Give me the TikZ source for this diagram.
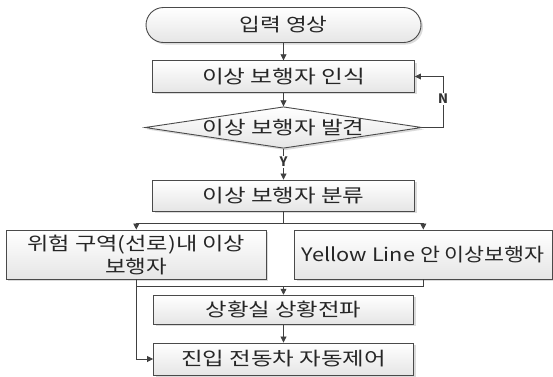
\documentclass[tikz,border=0pt]{standalone}
\usepackage{fontspec}
\usepackage{graphicx}
\usetikzlibrary{arrows.meta,shapes.geometric,shadows}
\newfontfamily\kr[WordSpace=2.2]{Noto Sans CJK KR}
\newfontfamily\krlab{Noto Sans CJK KR}
\definecolor{edgegray}{HTML}{4A4A4A}
\definecolor{linegray}{HTML}{404040}
% set a text line to a given width by horizontal scaling
\newsavebox\fitbox
\newcommand\fitto[2]{\sbox\fitbox{#2}\scalebox{\fpeval{(#1)/(\the\wd\fitbox)}}[1]{\usebox\fitbox}}
% label with no size of its own, so the diamond keeps its set size
\newcommand{\flatlabel}[1]{\makebox[0pt]{\smash{\raisebox{-6.5pt}{#1}}}}
\begin{document}
\begin{tikzpicture}[x=1pt,y=-1pt,
  shapebase/.style={draw=edgegray, line width=0.9pt, top color=white, bottom color=black!10,
    drop shadow={shadow xshift=2pt, shadow yshift=-2pt, fill=black!14, opacity=1},
    font=\kr\fontsize{18.5}{23}\selectfont, text=black!85, inner sep=0pt, align=center},
  procbox/.style={shapebase, rectangle},
  termbox/.style={shapebase, rectangle, rounded corners=17.5pt},
  decbox/.style={shapebase, diamond},
  arr/.style={draw=linegray, line width=0.8pt, -{Triangle[length=6pt,width=6pt]}},
  plain/.style={draw=linegray, line width=0.8pt},
  lab/.style={fill=white, inner sep=1pt, font=\krlab\bfseries\fontsize{13}{14}\selectfont, text=black!80}]
\useasboundingbox (0,0) rectangle (553,376);

% process column
\node[termbox, minimum width=275pt, minimum height=35pt] (term) at (283.5,25) {\fitto{88pt}{입력 영상}};
\node[procbox, minimum width=262pt, minimum height=31.5pt] (recog) at (283.5,76.5) {\fitto{163pt}{이상 보행자 인식}};
\node[decbox, minimum width=277pt, minimum height=41.5pt] (found) at (283.5,127.5) {\flatlabel{\fitto{162pt}{이상 보행자 발견}}};
\node[procbox, minimum width=262pt, minimum height=31pt] (classify) at (283.5,195.5) {\fitto{162pt}{이상 보행자 분류}};
\node[procbox, minimum width=260pt, minimum height=49pt] (danger) at (136.3,254.5) {\fitto{218pt}{위험 구역(선로)내 이상}\\\fitto{62pt}{보행자}};
\node[procbox, minimum width=257.5pt, minimum height=49pt] (yellow) at (423.3,254.5) {\fitto{243pt}{Yellow Line 안 이상보행자}};
\node[procbox, minimum width=260pt, minimum height=29pt] (report) at (283.5,309.7) {\fitto{156pt}{상황실 상황전파}};
\node[procbox, minimum width=260pt, minimum height=32pt] (control) at (283.5,359) {\fitto{205pt}{진입 전동차 자동제어}};

% helper points for the branches
\coordinate (loopx) at (443,0);
\coordinate (split) at (283.5,223);
\coordinate (merge) at (283.5,286);

% connectors
\draw[arr] (term) -- (recog);
\draw[arr] (recog) -- (found);
\draw[arr] (found.east) -- (found.east -| loopx) |- (recog.east);
\node[lab] (nlab) at (443,99) {N};
\draw[arr] (found.south) -- (classify.north);
\node[lab] (ylab) at (283.5,162) {Y};
\draw[plain] (classify.south) -- (split);
\draw[arr] (split) -| (danger.north);
\draw[arr] (split) -| (yellow.north);
\draw[plain] (danger.south) |- (merge);
\draw[plain] (yellow.south) |- (merge);
\draw[arr] (merge) -- (report.north);
\draw[arr] (danger.south) |- (control.west);
\draw[arr] (report) -- (control);
\end{tikzpicture}
\end{document}
